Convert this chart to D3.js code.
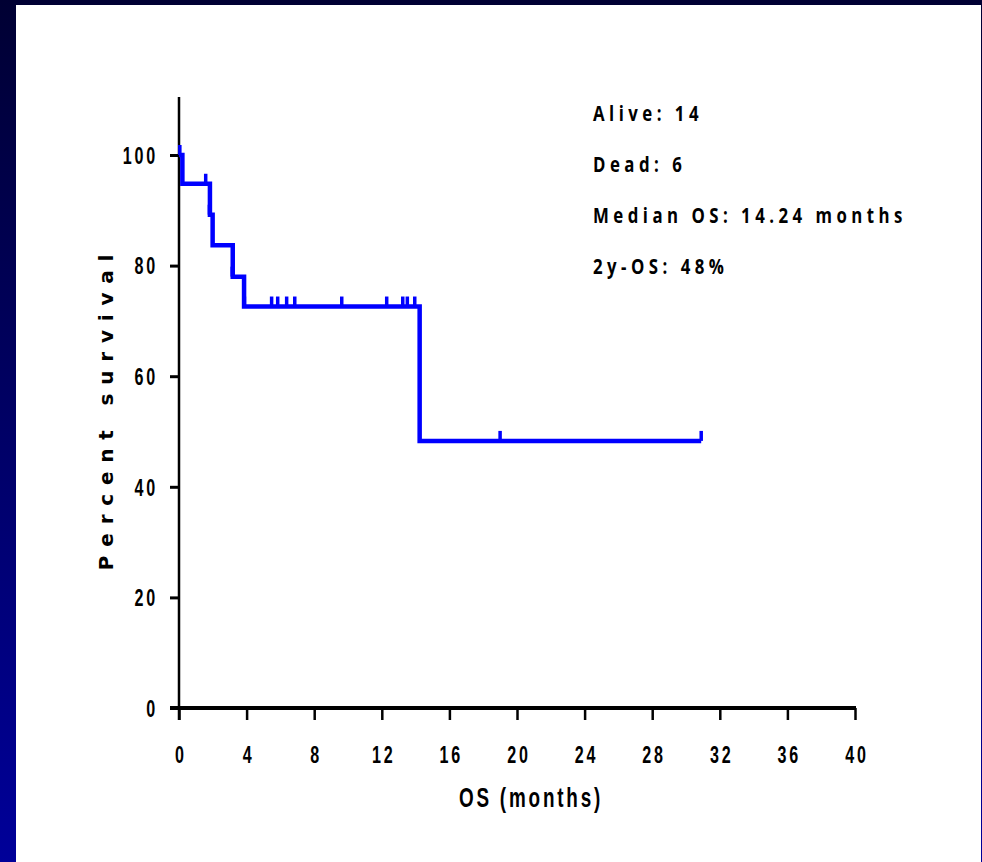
<!DOCTYPE html>
<html lang="en">
	<head>
		<meta charset="utf-8">
		<title>OS Kaplan-Meier</title>
		<script src="https://cdnjs.cloudflare.com/ajax/libs/d3/7.8.5/d3.min.js"></script>
		<style type="text/css">
			body { margin: 0; padding: 0; }
			.tick-label { font-family: "Liberation Sans", Arial, sans-serif; font-weight: bold; font-size: 23px; letter-spacing: 4px; }
			.note { font-family: "Open Sans", "Noto Sans", sans-serif; font-weight: bold; font-size: 21px; letter-spacing: 5.6px; }
		</style>
	</head>
	<body>
		<script type="text/javascript">

			//Data
			var stepTimes = [0, 0.2, 1.83, 1.99, 3.18, 3.85, 14.24];
			var stepSurvival = [100, 94.8, 89.2, 83.7, 78.0, 72.6, 48.3];
			var lastTime = 30.9;

			var censorTimes = [0.05, 1.58, 1.8, 3.15, 3.87, 5.48, 5.84, 6.37, 6.85, 9.63, 12.29, 13.24, 13.51, 13.95, 19.0, 30.9];
			var censorSurvival = [100, 94.8, 89.2, 78.0, 72.6, 72.6, 72.6, 72.6, 72.6, 72.6, 72.6, 72.6, 72.6, 72.6, 48.3, 48.3];

			var xTicks = [0, 4, 8, 12, 16, 20, 24, 28, 32, 36, 40];
			var yTicks = [0, 20, 40, 60, 80, 100];

			var notes = ["Alive: 14", "Dead: 6", "Median OS: 14.24 months", "2y-OS: 48%"];

			//Width and height
			var w = 982;
			var h = 862;
			var squeeze = 0.7;   // narrow look of the tick font

			var svg = d3.select("body")
				.append("svg")
				.attr("width", w)
				.attr("height", h);

			//Slide background, dark frame with a gradient on the left
			var defs = svg.append("defs");
			var grad = defs.append("linearGradient")
				.attr("id", "frame")
				.attr("x1", 0).attr("y1", 0)
				.attr("x2", 0).attr("y2", 1);
			grad.append("stop").attr("offset", "0%").attr("stop-color", "#000033");
			grad.append("stop").attr("offset", "100%").attr("stop-color", "#000099");

			svg.append("rect").attr("x", 0).attr("y", 0).attr("width", w).attr("height", h).style("fill", "url(#frame)");
			svg.append("rect").attr("x", 16).attr("y", 5).attr("width", 965).attr("height", h - 5).style("fill", "#ffffff");

			//Scales
			var x = d3.scaleLinear().domain([0, 40]).range([179, 855]);
			var y = d3.scaleLinear().domain([0, 100]).range([708, 155]);

			//Y axis
			var yAxis = d3.axisLeft(y).tickValues(yTicks).tickSize(9).tickPadding(12).tickFormat(d3.format("d"));
			var gy = svg.append("g").attr("transform", "translate(" + x(0) + ",0)").call(yAxis);
			gy.select(".domain").remove();
			gy.selectAll(".tick line").style("stroke", "#000").style("stroke-width", 3);
			gy.selectAll(".tick text")
				.attr("class", "tick-label")
				.style("fill", "#000")
				.attr("x", -21 / squeeze)
				.attr("dy", "0.36em")
				.attr("transform", "scale(" + squeeze + ",1)");
			svg.append("line")
				.attr("x1", x(0)).attr("x2", x(0))
				.attr("y1", y(110.5)).attr("y2", y(0) + 12)
				.style("stroke", "#000").style("stroke-width", 2.5);

			//X axis
			var xAxis = d3.axisBottom(x).tickValues(xTicks).tickSize(12).tickPadding(27).tickFormat(d3.format("d"));
			var gx = svg.append("g").attr("transform", "translate(0," + y(0) + ")").call(xAxis);
			gx.select(".domain").remove();
			gx.selectAll(".tick line").style("stroke", "#000").style("stroke-width", 2.5);
			gx.selectAll(".tick text")
				.attr("class", "tick-label")
				.style("fill", "#000")
				.attr("x", 2)
				.attr("transform", "scale(" + squeeze + ",1)");
			svg.append("line")
				.attr("x1", x(0) - 9).attr("x2", x(40) + 1)
				.attr("y1", y(0)).attr("y2", y(0))
				.style("stroke", "#000").style("stroke-width", 4);

			//Axis titles
			svg.append("text")
				.attr("transform", "translate(531,807) scale(" + squeeze + ",1)")
				.attr("text-anchor", "middle")
				.attr("class", "tick-label")
				.style("font-size", "27px")
				.style("letter-spacing", "4px")
				.text("OS (months)");

			svg.append("text")
				.attr("transform", "translate(113,408) rotate(-90)")
				.attr("text-anchor", "middle")
				.style("font-family", "'DejaVu Sans', sans-serif")
				.style("font-weight", "bold")
				.style("font-size", "20px")
				.style("letter-spacing", "8.8px")
				.text("Percent survival");

			//Survival step line
			var pts = [];
			for (var i = 0; i < stepTimes.length; i++) {
				pts.push([stepTimes[i], stepSurvival[i]]);
			}
			pts.push([lastTime, stepSurvival[stepSurvival.length - 1]]);

			var line = d3.line()
				.x(function(d) { return x(d[0]); })
				.y(function(d) { return y(d[1]); })
				.curve(d3.curveStepAfter);

			svg.append("path")
				.datum(pts)
				.attr("d", line)
				.style("fill", "none")
				.style("stroke", "#0000ff")
				.style("stroke-width", 4.5);

			//Censor marks
			svg.selectAll("line.censor")
				.data(censorTimes)
				.enter()
				.append("line")
				.attr("class", "censor")
				.attr("x1", function(d) { return x(d); })
				.attr("x2", function(d) { return x(d); })
				.attr("y1", function(d, i) { return y(censorSurvival[i]); })
				.attr("y2", function(d, i) { return y(censorSurvival[i]) - 10; })
				.style("stroke", "#0000ff")
				.style("stroke-width", 3.5);

			//Notes top right
			svg.selectAll("text.note")
				.data(notes)
				.enter()
				.append("text")
				.attr("class", "note")
				.attr("transform", function(d, i) { return "translate(593," + (121 + i * 51) + ") scale(0.8,1)"; })
				.text(function(d) { return d; });

		</script>
	</body>
</html>
